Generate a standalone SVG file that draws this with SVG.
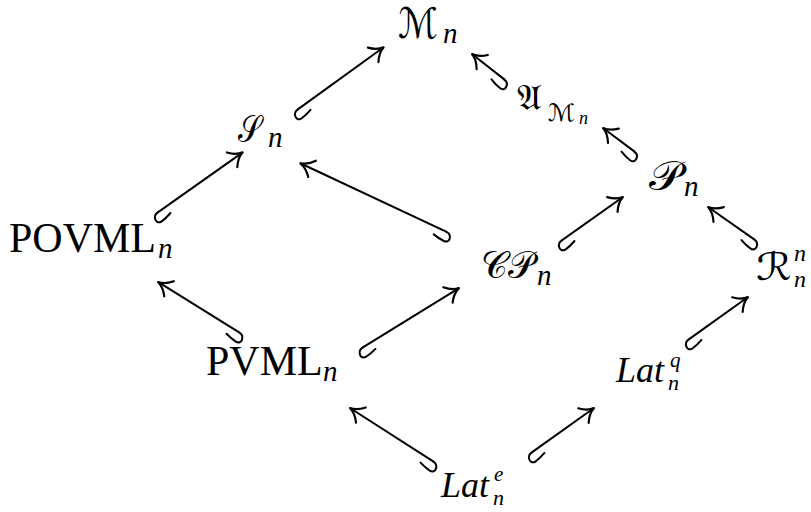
<svg xmlns="http://www.w3.org/2000/svg" xmlns:xlink="http://www.w3.org/1999/xlink" width="811" height="512" viewBox="0 0 811 512">
<style>
.rm{font-family:"Liberation Serif","DejaVu Serif",serif;font-size:42px;fill:#000}
.it{font-family:"Liberation Serif","DejaVu Serif",serif;font-style:italic;fill:#000}
.cal{font-family:"DejaVu Serif","DejaVu Sans","Noto Sans","Noto Sans CJK SC",serif;fill:#000}
.ln{stroke:#000;stroke-width:2;fill:none;stroke-linecap:round}
.hd{stroke:#000;stroke-width:2.2;fill:none;stroke-linecap:round}
</style>
<defs>
<path id="hk" d="M 1 0 C -6 0 -8 9.5 -1 9.5 C 3 9.5 7 8.8 11 7.8"/>
<path id="hd" d="M -13 -9 Q -7 -1.5 0 0 Q -7 1.5 -13 9"/>
</defs>
<rect width="811" height="512" fill="#fff"/>
<g id="node-Mn"><text class="cal" x="398" y="38" font-size="42" textLength="40" lengthAdjust="spacingAndGlyphs">ℳ</text><text class="it" x="443" y="43" font-size="29">n</text></g>
<g id="node-AMn"><text class="cal" x="517" y="110" font-size="36" textLength="25" lengthAdjust="spacingAndGlyphs">𝔄</text><text class="cal" x="548" y="121" font-size="24" textLength="27" lengthAdjust="spacingAndGlyphs">ℳ</text><text class="it" x="579" y="124" font-size="18">n</text></g>
<g id="node-Sn"><text class="cal" x="238" y="142" font-size="38" textLength="23" lengthAdjust="spacingAndGlyphs">𝒮</text><text class="it" x="268" y="147" font-size="29">n</text></g>
<g id="node-Pn"><text class="cal" x="649" y="190" font-size="40" textLength="33" lengthAdjust="spacingAndGlyphs">𝒫</text><text class="it" x="684" y="196" font-size="29">n</text></g>
<g id="node-POVMLn"><text class="rm" x="9" y="252">POVML</text><text class="it" x="158" y="258" font-size="29">n</text></g>
<g id="node-CPn"><text class="cal" x="481" y="278" font-size="38" textLength="53" lengthAdjust="spacingAndGlyphs">𝒞𝒫</text><text class="it" x="537" y="285" font-size="29">n</text></g>
<g id="node-Rnn"><text class="cal" x="756" y="280" font-size="38" textLength="36" lengthAdjust="spacingAndGlyphs">ℛ</text><text class="it" x="794" y="261" font-size="24">n</text><text class="it" x="794" y="287" font-size="24">n</text></g>
<g id="node-PVMLn"><text class="rm" x="206" y="375">PVML</text><text class="it" x="323" y="381" font-size="29">n</text></g>
<g id="node-Latq"><text class="it" x="616" y="382" font-size="36">Lat</text><text class="it" x="670" y="367" font-size="21">q</text><text class="it" x="668" y="390" font-size="22">n</text></g>
<g id="node-Late"><text class="it" x="441" y="497" font-size="36">Lat</text><text class="it" x="494" y="481" font-size="21">e</text><text class="it" x="493" y="505" font-size="22">n</text></g>
<g id="connectors">
<g transform="translate(297,110) rotate(-35.9)"><line class="ln" x1="1" y1="0" x2="107" y2="0"/><use href="#hk" class="ln"/><use href="#hd" class="hd" x="107"/></g>
<g transform="translate(505,80) rotate(-141.8)"><line class="ln" x1="1" y1="0" x2="42" y2="0"/><use href="#hk" class="ln" transform="scale(1,-1)"/><use href="#hd" class="hd" x="42"/></g>
<g transform="translate(635,152) rotate(-143.1)"><line class="ln" x1="1" y1="0" x2="40" y2="0"/><use href="#hk" class="ln" transform="scale(1,-1)"/><use href="#hd" class="hd" x="40"/></g>
<g transform="translate(157,213) rotate(-35.3)"><line class="ln" x1="1" y1="0" x2="105" y2="0"/><use href="#hk" class="ln"/><use href="#hd" class="hd" x="105"/></g>
<g transform="translate(447,232) rotate(-154.9)"><line class="ln" x1="1" y1="0" x2="162" y2="0"/><use href="#hk" class="ln" transform="scale(1,-1)"/><use href="#hd" class="hd" x="162"/></g>
<g transform="translate(240,333) rotate(-148.1)"><line class="ln" x1="1" y1="0" x2="96.6" y2="0"/><use href="#hk" class="ln" transform="scale(1,-1)"/><use href="#hd" class="hd" x="96.6"/></g>
<g transform="translate(561,241) rotate(-35.4)"><line class="ln" x1="1" y1="0" x2="76" y2="0"/><use href="#hk" class="ln"/><use href="#hd" class="hd" x="76"/></g>
<g transform="translate(755,240) rotate(-144.9)"><line class="ln" x1="1" y1="0" x2="57.4" y2="0"/><use href="#hk" class="ln" transform="scale(1,-1)"/><use href="#hd" class="hd" x="57.4"/></g>
<g transform="translate(362,348) rotate(-31.7)"><line class="ln" x1="1" y1="0" x2="114" y2="0"/><use href="#hk" class="ln"/><use href="#hd" class="hd" x="114"/></g>
<g transform="translate(688,340) rotate(-35.6)"><line class="ln" x1="1" y1="0" x2="73.8" y2="0"/><use href="#hk" class="ln"/><use href="#hd" class="hd" x="73.8"/></g>
<g transform="translate(434,462) rotate(-147.3)"><line class="ln" x1="1" y1="0" x2="99.9" y2="0"/><use href="#hk" class="ln" transform="scale(1,-1)"/><use href="#hd" class="hd" x="99.9"/></g>
<g transform="translate(531,453) rotate(-35.5)"><line class="ln" x1="1" y1="0" x2="77.4" y2="0"/><use href="#hk" class="ln"/><use href="#hd" class="hd" x="77.4"/></g>
</g>
</svg>
